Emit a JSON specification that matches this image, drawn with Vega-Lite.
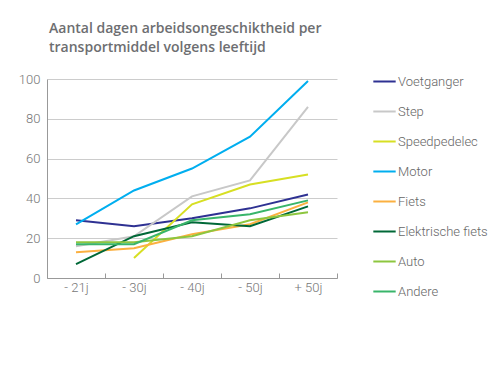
{
  "$schema": "https://vega.github.io/schema/vega-lite/v6.json",
  "autosize": "none",
  "width": 290,
  "height": 199,
  "padding": {"left": 47, "top": 79, "right": 163, "bottom": 103},
  "background": "white",
  "title": {
    "text": ["Aantal dagen arbeidsongeschiktheid per", "transportmiddel volgens leeftijd"],
    "anchor": "start",
    "frame": "group",
    "font": "Open Sans",
    "fontSize": 14,
    "fontWeight": 600,
    "color": "#6d6e71",
    "lineHeight": 19,
    "offset": 14,
    "dx": 2,
    "limit": 400
  },
  "config": {
    "view": {"stroke": null},
    "font": "Roboto"
  },
  "data": {
    "values": [
      {"age": "- 21j", "mode": "Voetganger", "value": 29},
      {"age": "- 30j", "mode": "Voetganger", "value": 26},
      {"age": "- 40j", "mode": "Voetganger", "value": 30},
      {"age": "- 50j", "mode": "Voetganger", "value": 35},
      {"age": "+ 50j", "mode": "Voetganger", "value": 42},
      {"age": "- 21j", "mode": "Step", "value": 16},
      {"age": "- 30j", "mode": "Step", "value": 21},
      {"age": "- 40j", "mode": "Step", "value": 41},
      {"age": "- 50j", "mode": "Step", "value": 49},
      {"age": "+ 50j", "mode": "Step", "value": 86},
      {"age": "- 30j", "mode": "Speedpedelec", "value": 10},
      {"age": "- 40j", "mode": "Speedpedelec", "value": 37},
      {"age": "- 50j", "mode": "Speedpedelec", "value": 47},
      {"age": "+ 50j", "mode": "Speedpedelec", "value": 52},
      {"age": "- 21j", "mode": "Motor", "value": 27},
      {"age": "- 30j", "mode": "Motor", "value": 44},
      {"age": "- 40j", "mode": "Motor", "value": 55},
      {"age": "- 50j", "mode": "Motor", "value": 71},
      {"age": "+ 50j", "mode": "Motor", "value": 99},
      {"age": "- 21j", "mode": "Fiets", "value": 13},
      {"age": "- 30j", "mode": "Fiets", "value": 15},
      {"age": "- 40j", "mode": "Fiets", "value": 22},
      {"age": "- 50j", "mode": "Fiets", "value": 27},
      {"age": "+ 50j", "mode": "Fiets", "value": 38},
      {"age": "- 21j", "mode": "Elektrische fiets", "value": 7},
      {"age": "- 30j", "mode": "Elektrische fiets", "value": 21},
      {"age": "- 40j", "mode": "Elektrische fiets", "value": 28},
      {"age": "- 50j", "mode": "Elektrische fiets", "value": 26},
      {"age": "+ 50j", "mode": "Elektrische fiets", "value": 36},
      {"age": "- 21j", "mode": "Auto", "value": 18},
      {"age": "- 30j", "mode": "Auto", "value": 18},
      {"age": "- 40j", "mode": "Auto", "value": 21},
      {"age": "- 50j", "mode": "Auto", "value": 29},
      {"age": "+ 50j", "mode": "Auto", "value": 33},
      {"age": "- 21j", "mode": "Andere", "value": 17},
      {"age": "- 30j", "mode": "Andere", "value": 17},
      {"age": "- 40j", "mode": "Andere", "value": 29},
      {"age": "- 50j", "mode": "Andere", "value": 32},
      {"age": "+ 50j", "mode": "Andere", "value": 39}
    ]
  },
  "mark": {"type": "line", "strokeWidth": 2},
  "encoding": {
    "x": {
      "field": "age",
      "type": "nominal",
      "sort": ["- 21j", "- 30j", "- 40j", "- 50j", "+ 50j"],
      "scale": {"type": "band", "paddingInner": 0, "paddingOuter": 0},
      "axis": {
        "title": null,
        "labelAngle": 0,
        "labelFont": "Roboto",
        "labelFontSize": 13,
        "labelFontWeight": 300,
        "labelColor": "#777777",
        "labelPadding": 8,
        "domainColor": "#999999",
        "domainWidth": 1,
        "tickColor": "#999999",
        "tickBand": "extent",
        "tickSize": -5,
        "grid": false
      }
    },
    "y": {
      "field": "value",
      "type": "quantitative",
      "scale": {"domain": [0, 100], "nice": false},
      "axis": {
        "title": null,
        "values": [0, 20, 40, 60, 80, 100],
        "labelFont": "Roboto",
        "labelFontSize": 13,
        "labelFontWeight": 300,
        "labelColor": "#777777",
        "labelPadding": 7,
        "ticks": false,
        "domain": true,
        "domainColor": "#999999",
        "grid": true,
        "gridColor": "#cccccc",
        "gridWidth": 1
      }
    },
    "color": {
      "field": "mode",
      "type": "nominal",
      "scale": {
        "domain": ["Voetganger", "Step", "Speedpedelec", "Motor", "Fiets", "Elektrische fiets", "Auto", "Andere"],
        "range": ["#2e3192", "#c8c8c8", "#d7df23", "#00aeef", "#fbb040", "#006837", "#8dc63f", "#39b56a"]
      },
      "legend": {
        "title": null,
        "orient": "none",
        "legendX": 325,
        "legendY": -10,
        "symbolType": "stroke",
        "symbolSize": 500,
        "symbolStrokeWidth": 2,
        "labelFont": "Roboto",
        "labelFontSize": 13,
        "labelFontWeight": 300,
        "labelColor": "#666666",
        "rowPadding": 10,
        "labelOffset": 1,
        "labelLimit": 200
      }
    }
  }
}
